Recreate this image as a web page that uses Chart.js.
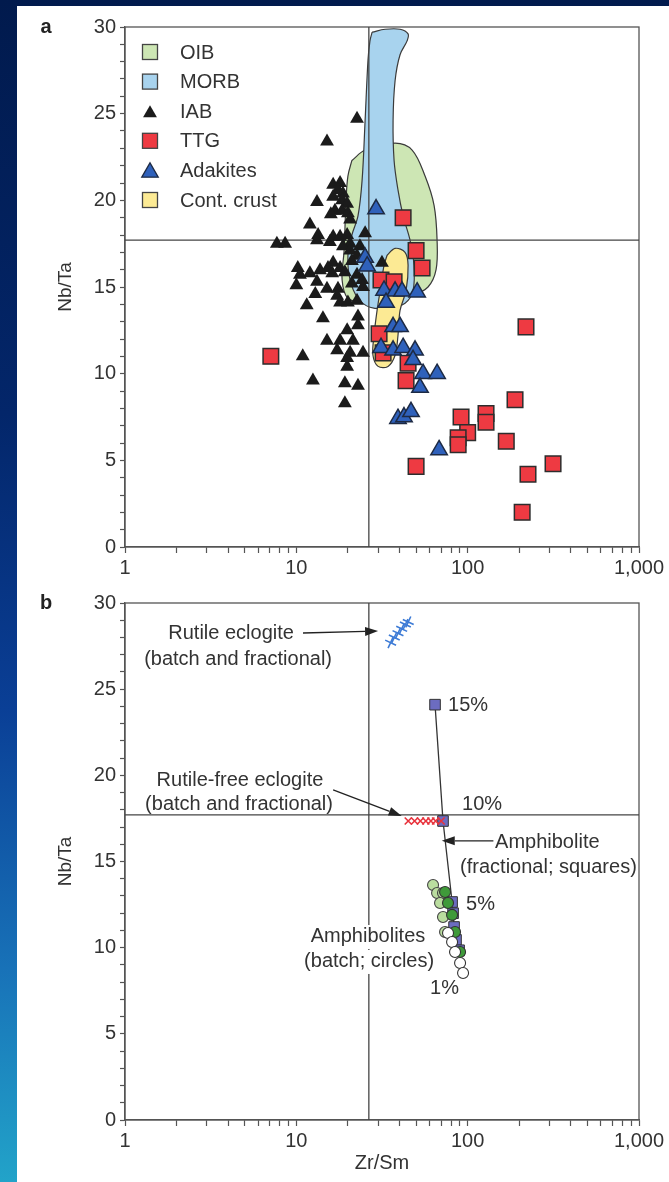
<!DOCTYPE html>
<html>
<head>
<meta charset="utf-8">
<script src="https://cdn.jsdelivr.net/npm/chart.js@4.4.1/dist/chart.umd.min.js"></script>
<style>
html,body{margin:0;padding:0}
body{width:669px;height:1182px;overflow:hidden;position:relative;
  background:linear-gradient(to bottom,#011a4d 0%,#03266a 35%,#0a3f96 60%,#1872b8 82%,#22a3c9 100%)}
#sheet{position:absolute;left:17px;top:6px;width:652px;height:1176px;background:#fff}
canvas{position:absolute;left:0}
#chartA{top:0}
#chartB{top:580px}
</style>
</head>
<body>
<div id="sheet"></div>
<canvas id="chartA" width="669" height="590"></canvas>
<canvas id="chartB" width="669" height="602"></canvas>
<script>
const FONT = '"Liberation Sans", Arial, Helvetica, sans-serif';
const INK = '#333';
const AXIS = '#555';

// axes
const X_TICKS = [1, 10, 100, 1000];
const X_TICK_LABELS = ['1', '10', '100', '1,000'];
const Y_TICKS = [0, 5, 10, 15, 20, 25, 30];
const Y_TICK_LABELS = ['0', '5', '10', '15', '20', '25', '30'];

// chondritic reference values
const CHONDRITE_ZRSM = 26.5;
const CHONDRITE_NBTA = 17.7;

// panel a fields, [Zr/Sm, Nb/Ta] outlines
const OIB_FIELD = [[21.1,22.3],[25.2,22.9],[37.7,23.3],[47.4,22.9],[56.4,21.4],[63.7,19.7],[66.3,17.7],[65.4,16.0],[58.7,15.0],[47.4,14.5],[35.2,14.2],[25.2,14.1],[20.0,14.35],[18.5,15.4],[19.0,17.1],[19.5,20.0],[20.0,21.4],[21.1,22.3]];
const MORB_FIELD = [[27.7,29.7],[33.0,29.87],[40.3,29.87],[44.9,29.6],[44.3,29.2],[40.3,28.4],[37.7,26.9],[36.7,24.6],[37.2,22.3],[39.2,20.6],[42.0,19.1],[46.1,17.7],[48.6,16.25],[48.0,14.8],[43.1,14.06],[34.3,13.77],[26.9,13.83],[22.9,14.35],[20.6,15.4],[20.0,16.8],[21.1,18.0],[22.9,19.1],[24.2,21.15],[25.2,24.6],[26.2,28.1],[26.9,29.2],[27.7,29.7]];
const CRUST_FIELD = [[33.85,16.83],[37.7,17.23],[43.1,17.0],[44.9,16.25],[43.7,14.8],[40.3,13.65],[39.2,12.2],[37.7,11.06],[34.3,10.42],[30.0,10.42],[28.0,11.06],[28.4,12.2],[29.6,13.65],[31.2,15.1],[32.5,16.25],[33.85,16.83]];

// panel a samples
const IAB = [[22.6,24.7],[15.1,23.4],[16.4,20.9],[18.0,21.0],[17.5,20.6],[18.7,20.4],[16.4,20.2],[18.5,20.0],[19.8,19.8],[13.2,19.9],
  [16.8,19.4],[15.9,19.2],[18.5,19.4],[20.0,19.25],[20.6,18.9],[12.0,18.6],[13.4,18.0],[16.4,17.9],[18.0,17.9],[19.8,18.0],
  [25.2,18.1],[7.7,17.5],[8.6,17.5],[20.6,17.5],[23.5,17.35],[13.2,17.7],[15.7,17.6],[18.7,17.35],[20.6,17.1],[22.6,16.8],
  [21.1,16.5],[31.6,16.4],[10.2,16.1],[16.4,16.4],[15.3,16.1],[18.0,16.1],[12.0,15.8],[13.75,15.96],[16.2,15.8],[19.2,15.85],
  [22.6,15.7],[24.2,15.4],[10.5,15.7],[13.2,15.3],[15.1,14.9],[17.5,14.9],[21.1,15.2],[24.5,15.0],[12.9,14.6],[11.5,13.95],
  [17.3,14.5],[18.0,14.1],[20.0,14.1],[22.6,14.2],[14.3,13.2],[22.9,13.3],[22.9,12.8],[19.8,12.5],[15.1,11.9],[18.0,11.9],
  [21.4,11.9],[17.3,11.35],[20.6,11.2],[24.5,11.2],[10.9,11.0],[19.8,10.9],[19.8,10.4],[12.5,9.6],[19.2,9.45],[22.9,9.3],
  [19.2,8.3],[10.0,15.1]];
const TTG = [[7.1,11.0],[42.0,19.0],[50.0,17.1],[54.2,16.1],[31.2,15.4],[37.2,15.3],[30.4,12.3],[32.1,11.2],[44.9,10.6],[43.7,9.6],
  [219,12.7],[189,8.5],[91.5,7.5],[128,7.7],[128,7.2],[100,6.6],[88,6.3],[88,5.9],[168,6.1],[315,4.8],[225,4.2],[50,4.65],[208,2.0]];
const ADAKITES = [[29.2,19.5],[25.2,16.7],[25.9,16.2],[32.5,14.8],[37.7,14.75],[41.4,14.75],[50.7,14.7],[33.4,14.1],[36.7,12.7],[40.3,12.7],
  [31.2,11.5],[36.7,11.35],[42.0,11.5],[49.3,11.35],[48.0,10.8],[54.9,10.0],[66.3,10.0],[52.7,9.2],[39.2,7.4],[42.5,7.5],[46.7,7.8],[68.1,5.6]];

// panel b melting models
const RUTILE_ECLOGITE = [[35.5,27.7],[37.3,28.0],[39.2,28.25],[41.2,28.5],[43.3,28.75],[45.0,28.9]];
const RUTILE_FREE = [[45,17.35],[49,17.35],[53,17.35],[57,17.35],[61,17.35],[65,17.35],[70,17.35]];
const AMPH_FRACTIONAL = [[64.5,24.1],[71.8,17.35],[81.1,12.65],[82.2,12.0],[83.3,11.2],[85.5,10.45],[89.1,9.85]];
const AMPH_BATCH_LIGHT = [[62.8,13.64],[66.3,13.17],[71.8,13.17],[69.0,12.59],[71.8,11.78],[73.8,10.91]];
const AMPH_BATCH_DARK = [[73.8,13.23],[76.8,12.59],[81.1,11.9],[84.4,10.91],[90.3,9.75]];
const AMPH_BATCH_WHITE = [[76.8,10.85],[81.1,10.33],[84.4,9.75],[90.3,9.11],[94.0,8.53]];

const LEGEND_A = ['OIB','MORB','IAB','TTG','Adakites','Cont. crust'];

// panel b labels and arrows (data coords)
const NOTES_B = [
  {text:'Rutile eclogite', x:4.16, y:28.26, align:'center'},
  {text:'(batch and fractional)', x:4.57, y:26.75, align:'center'},
  {text:'Rutile-free eclogite', x:4.69, y:19.73, align:'center'},
  {text:'(batch and fractional)', x:4.63, y:18.28, align:'center'},
  {text:'15%', x:76.8, y:24.08, align:'left'},
  {text:'10%', x:92.7, y:18.28, align:'left'},
  {text:'5%', x:97.9, y:12.53, align:'left'},
  {text:'1%', x:60.3, y:7.66, align:'left'},
  {text:'Amphibolite', x:144.5, y:16.13, align:'left'},
  {text:'(fractional; squares)', x:90.3, y:14.68, align:'left'},
  {text:'Amphibolites', x:26.2, y:10.62, align:'center', bg:true},
  {text:'(batch; circles)', x:26.6, y:9.17, align:'center', bg:true}
];
const ARROWS_B = [
  {from:[10.94,28.26], to:[30.0,28.37]},
  {from:[16.4,19.15], to:[41.2,17.64]},
  {from:[141.3,16.2], to:[70.6,16.2]}
];

Chart.defaults.font.family = FONT;
Chart.defaults.color = INK;
Chart.defaults.animation = false;

const pts = a => a.map(([x,y]) => ({x,y}));
const xAll = X_TICKS.flatMap((d,i) => i < X_TICKS.length-1 ? [1,2,3,4,5,6,7,8,9].map(k => k*d) : [d]);
const yAll = Array.from({length:31}, (_,i) => i);

function scales(xh, xTitle){
  return {
    x:{type:'logarithmic', min:1, max:1000,
      afterBuildTicks:s => { s.ticks = xAll.map(v => ({value:v})); },
      afterFit:s => { s.height = xh; },
      ticks:{autoSkip:false, maxRotation:0, minRotation:0, padding:3, color:INK, font:{size:20},
        callback:v => { const i = X_TICKS.indexOf(v); return i < 0 ? '' : X_TICK_LABELS[i]; }},
      grid:{drawOnChartArea:false, tickLength:6, tickColor:AXIS, tickWidth:1.2},
      border:{color:AXIS, width:1.3},
      title:{display:!!xTitle, text:xTitle || '', color:INK, font:{size:20}, padding:{top:0, bottom:7}}
    },
    y:{type:'linear', min:0, max:30,
      afterBuildTicks:s => { s.ticks = yAll.map(v => ({value:v})); },
      afterFit:s => { s.width = 108; },
      ticks:{autoSkip:false, padding:4, color:INK, font:{size:20},
        callback:v => { const i = Y_TICKS.indexOf(v); return i < 0 ? '' : Y_TICK_LABELS[i]; }},
      grid:{drawOnChartArea:false, tickLength:5, tickColor:AXIS, tickWidth:1.2},
      border:{color:AXIS, width:1.3},
      title:{display:true, text:'Nb/Ta', color:INK, font:{size:19}, padding:{top:37, bottom:0}}
    }
  };
}

const field = (label, data, color, order) => ({label, data:pts(data), showLine:true, fill:'shape', tension:0.35,
  backgroundColor:color, borderColor:'#3a3a3a', borderWidth:1.2, pointRadius:0, order});
const refLines = () => [
  {data:[{x:CHONDRITE_ZRSM,y:0},{x:CHONDRITE_ZRSM,y:30}], showLine:true, borderColor:'#444', borderWidth:1.3, pointRadius:0, order:4},
  {data:[{x:1,y:CHONDRITE_NBTA},{x:1000,y:CHONDRITE_NBTA}], showLine:true, borderColor:'#444', borderWidth:1.3, pointRadius:0, order:4}
];

// frame + panel letter
const framePlugin = {
  id:'frame',
  beforeDatasetsDraw(chart, args, opts){
    const {ctx, chartArea:a} = chart;
    ctx.save();
    ctx.strokeStyle = AXIS; ctx.lineWidth = 1.3;
    ctx.strokeRect(a.left, a.top, a.right-a.left, a.bottom-a.top);
    ctx.fillStyle = '#222'; ctx.font = 'bold 20px ' + FONT;
    ctx.textAlign = 'center'; ctx.textBaseline = 'middle';
    ctx.fillText(opts.letter, 46, a.top);
    ctx.restore();
  }
};

// legend drawn inside the plot area
const legendPlugin = {
  id:'boxLegend',
  afterDatasetsDraw(chart, args, opts){
    if(!opts.labels) return;
    const {ctx, chartArea:a} = chart;
    ctx.save();
    opts.labels.forEach((lbl,i) => {
      const ds = chart.data.datasets.find(d => d.label === lbl);
      const cx = a.left + 25, cy = a.top + 25 + i*29.6;
      if(ds.fill || ds.pointStyle === 'rect'){
        ctx.fillStyle = ds.backgroundColor; ctx.strokeStyle = '#444'; ctx.lineWidth = 1.3;
        ctx.fillRect(cx-7.5, cy-7.5, 15, 15); ctx.strokeRect(cx-7.5, cy-7.5, 15, 15);
      } else {
        ctx.fillStyle = ds.backgroundColor; ctx.strokeStyle = ds.borderColor;
        Chart.helpers.drawPoint(ctx, {pointStyle:'triangle', rotation:0, radius:ds.pointRadius, borderWidth:ds.borderWidth}, cx, cy+2);
      }
      ctx.fillStyle = INK; ctx.font = '20px ' + FONT; ctx.textAlign = 'left'; ctx.textBaseline = 'middle';
      ctx.fillText(lbl, a.left + 55, cy + 1);
    });
    ctx.restore();
  }
};

// text labels and arrows
const notesPlugin = {
  id:'notes',
  afterDatasetsDraw(chart, args, opts){
    if(!opts.notes) return;
    const {ctx, scales:{x, y}} = chart;
    ctx.save();
    ctx.font = '20px ' + FONT; ctx.textBaseline = 'middle';
    opts.notes.forEach(n => {
      const px = x.getPixelForValue(n.x), py = y.getPixelForValue(n.y);
      ctx.textAlign = n.align;
      if(n.bg){
        const w = ctx.measureText(n.text).width;
        const l = n.align === 'center' ? px - w/2 : px;
        ctx.fillStyle = '#fff'; ctx.fillRect(l-3, py-12, w+6, 24);
      }
      ctx.fillStyle = INK; ctx.fillText(n.text, px, py);
    });
    ctx.strokeStyle = '#222'; ctx.fillStyle = '#222'; ctx.lineWidth = 1.3;
    opts.arrows.forEach(ar => {
      const x0 = x.getPixelForValue(ar.from[0]), y0 = y.getPixelForValue(ar.from[1]);
      const x1 = x.getPixelForValue(ar.to[0]), y1 = y.getPixelForValue(ar.to[1]);
      const ang = Math.atan2(y1-y0, x1-x0), len = 13, hw = 4.5;
      const bx = x1 - Math.cos(ang)*len, by = y1 - Math.sin(ang)*len;
      ctx.beginPath(); ctx.moveTo(x0, y0); ctx.lineTo(bx, by); ctx.stroke();
      ctx.beginPath(); ctx.moveTo(x1, y1);
      ctx.lineTo(bx + Math.sin(ang)*hw, by - Math.cos(ang)*hw);
      ctx.lineTo(bx - Math.sin(ang)*hw, by + Math.cos(ang)*hw);
      ctx.closePath(); ctx.fill();
    });
    ctx.restore();
  }
};

new Chart(document.getElementById('chartA'), {
  type:'scatter',
  data:{datasets:[
    {label:'Adakites', data:pts(ADAKITES), pointStyle:'triangle', pointRadius:9.5, backgroundColor:'#2f61bb', borderColor:'#1d2a44', borderWidth:1.5, order:1},
    {label:'TTG', data:pts(TTG), pointStyle:'rect', pointRadius:11, backgroundColor:'#ee3a42', borderColor:'#2d2d2d', borderWidth:1.5, order:2},
    {label:'IAB', data:pts(IAB), pointStyle:'triangle', pointRadius:8, backgroundColor:'#1b1b1b', borderColor:'#1b1b1b', borderWidth:0, order:3},
    ...refLines(),
    field('Cont. crust', CRUST_FIELD, '#fcea94', 5),
    field('MORB', MORB_FIELD, '#a8d3ee', 6),
    field('OIB', OIB_FIELD, '#cde6b4', 7)
  ]},
  options:{
    responsive:false,
    layout:{autoPadding:false, padding:{left:17, right:30, top:27, bottom:0}},
    scales:scales(43, ''),
    plugins:{legend:{display:false}, tooltip:{enabled:false},
      frame:{letter:'a'}, boxLegend:{labels:LEGEND_A}}
  },
  plugins:[framePlugin, legendPlugin]
});

new Chart(document.getElementById('chartB'), {
  type:'scatter',
  data:{datasets:[
    {label:'Rutile eclogite', data:pts(RUTILE_ECLOGITE), pointStyle:'cross', rotation:25, pointRadius:6, borderColor:'#3d7bd6', borderWidth:1.6, order:1},
    {label:'Rutile-free eclogite', data:pts(RUTILE_FREE), pointStyle:'crossRot', pointRadius:5, borderColor:'#e8323c', borderWidth:1.6, order:1},
    {label:'Batch white', data:pts(AMPH_BATCH_WHITE), pointStyle:'circle', pointRadius:5.5, backgroundColor:'#fff', borderColor:'#333', borderWidth:1.1, order:1},
    {label:'Batch dark', data:pts(AMPH_BATCH_DARK), pointStyle:'circle', pointRadius:5.5, backgroundColor:'#3f9a3a', borderColor:'#333', borderWidth:1.1, order:2},
    {label:'Batch light', data:pts(AMPH_BATCH_LIGHT), pointStyle:'circle', pointRadius:5.5, backgroundColor:'#badd9f', borderColor:'#444', borderWidth:1.1, order:2},
    {label:'Amphibolite fractional', data:pts(AMPH_FRACTIONAL), showLine:true, borderColor:'#333', borderWidth:1.3,
      pointStyle:'rect', pointRadius:7.5, pointBackgroundColor:'#6c6cc0', pointBorderColor:'#333', pointBorderWidth:1, order:3},
    ...refLines()
  ]},
  options:{
    responsive:false,
    layout:{autoPadding:false, padding:{left:17, right:30, top:23, bottom:0}},
    scales:scales(62, 'Zr/Sm'),
    plugins:{legend:{display:false}, tooltip:{enabled:false},
      frame:{letter:'b'}, notes:{notes:NOTES_B, arrows:ARROWS_B}}
  },
  plugins:[framePlugin, notesPlugin]
});
</script>
</body>
</html>
